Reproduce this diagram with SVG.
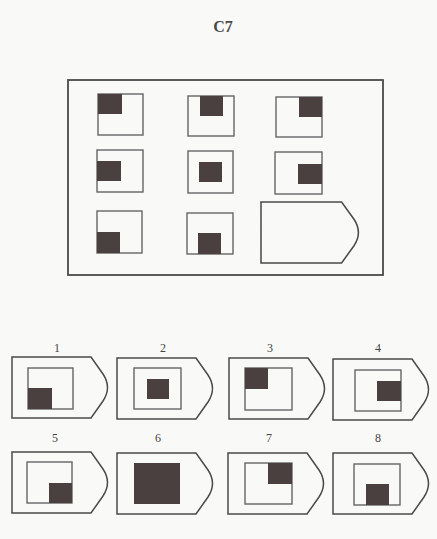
<svg xmlns="http://www.w3.org/2000/svg" width="437" height="539" viewBox="0 0 437 539">
<style>
.bg{fill:#f9f9f7}
.frame{fill:none;stroke:#4a4a4a;stroke-width:1.8}
.box{fill:none;stroke:#666;stroke-width:1.4}
.pent{fill:none;stroke:#4a4a4a;stroke-width:1.5}
.dk{fill:#4b4040}
.lbl{font-family:"Liberation Serif","DejaVu Serif",serif;font-size:12px;fill:#444;text-anchor:middle}
.title{font-family:"Liberation Serif","DejaVu Serif",serif;font-size:16px;font-weight:bold;fill:#4a4a4a;text-anchor:middle}
</style>
<defs>
<path id="pentShape" class="pent" d="M0,0 H79 L91,17 Q100,30.5 91,44 L79,61 H0 Z"/>
</defs>
<rect class="bg" x="0" y="0" width="437" height="539"/>
<text class="title" x="223" y="32">C7</text>
<g id="matrix">
<rect class="frame" x="68" y="80" width="315" height="195"/>
</g>
<g id="cell1"><rect class="box" x="98" y="94" width="45" height="41"/><rect class="dk" x="98" y="94" width="24" height="20"/></g>
<g id="cell2"><rect class="box" x="188" y="96" width="46" height="40"/><rect class="dk" x="200" y="96" width="23" height="20"/></g>
<g id="cell3"><rect class="box" x="276" y="97" width="46" height="40"/><rect class="dk" x="299" y="97" width="23" height="20"/></g>
<g id="cell4"><rect class="box" x="97" y="150" width="46" height="42"/><rect class="dk" x="97" y="161" width="24" height="20"/></g>
<g id="cell5"><rect class="box" x="188" y="151" width="45" height="42"/><rect class="dk" x="199" y="162" width="23" height="20"/></g>
<g id="cell6"><rect class="box" x="275" y="152" width="47" height="42"/><rect class="dk" x="298" y="164" width="24" height="20"/></g>
<g id="cell7"><rect class="box" x="97" y="211" width="45" height="42"/><rect class="dk" x="97" y="232" width="23" height="21"/></g>
<g id="cell8"><rect class="box" x="187" y="213" width="46" height="41"/><rect class="dk" x="198" y="233" width="23" height="21"/></g>
<g id="cell9"><use href="#pentShape" transform="translate(261,202) scale(1.02,1)"/></g>

<g id="opt1"><text class="lbl" x="57" y="352">1</text><use href="#pentShape" x="12" y="357"/><rect class="box" x="28" y="368" width="45" height="41"/><rect class="dk" x="28" y="388" width="24" height="21"/></g>
<g id="opt2"><text class="lbl" x="163" y="352">2</text><use href="#pentShape" x="117" y="358"/><rect class="box" x="134" y="368" width="47" height="41"/><rect class="dk" x="147" y="379" width="22" height="20"/></g>
<g id="opt3"><text class="lbl" x="270" y="352">3</text><use href="#pentShape" x="229" y="358"/><rect class="box" x="245" y="368" width="47" height="42"/><rect class="dk" x="245" y="368" width="23" height="21"/></g>
<g id="opt4"><text class="lbl" x="378" y="352">4</text><use href="#pentShape" x="333" y="359"/><rect class="box" x="355" y="370" width="46" height="41"/><rect class="dk" x="377" y="381" width="24" height="20"/></g>
<g id="opt5"><text class="lbl" x="55" y="442">5</text><use href="#pentShape" x="12" y="452"/><rect class="box" x="27" y="462" width="45" height="41"/><rect class="dk" x="49" y="483" width="23" height="20"/></g>
<g id="opt6"><text class="lbl" x="158" y="442">6</text><use href="#pentShape" x="117" y="453"/><rect class="dk" x="134" y="463" width="46" height="41"/></g>
<g id="opt7"><text class="lbl" x="269" y="442">7</text><use href="#pentShape" x="228" y="453"/><rect class="box" x="245" y="463" width="47" height="41"/><rect class="dk" x="268" y="463" width="24" height="21"/></g>
<g id="opt8"><text class="lbl" x="378" y="442">8</text><use href="#pentShape" x="333" y="453"/><rect class="box" x="354" y="464" width="46" height="41"/><rect class="dk" x="366" y="484" width="23" height="21"/></g>
</svg>
